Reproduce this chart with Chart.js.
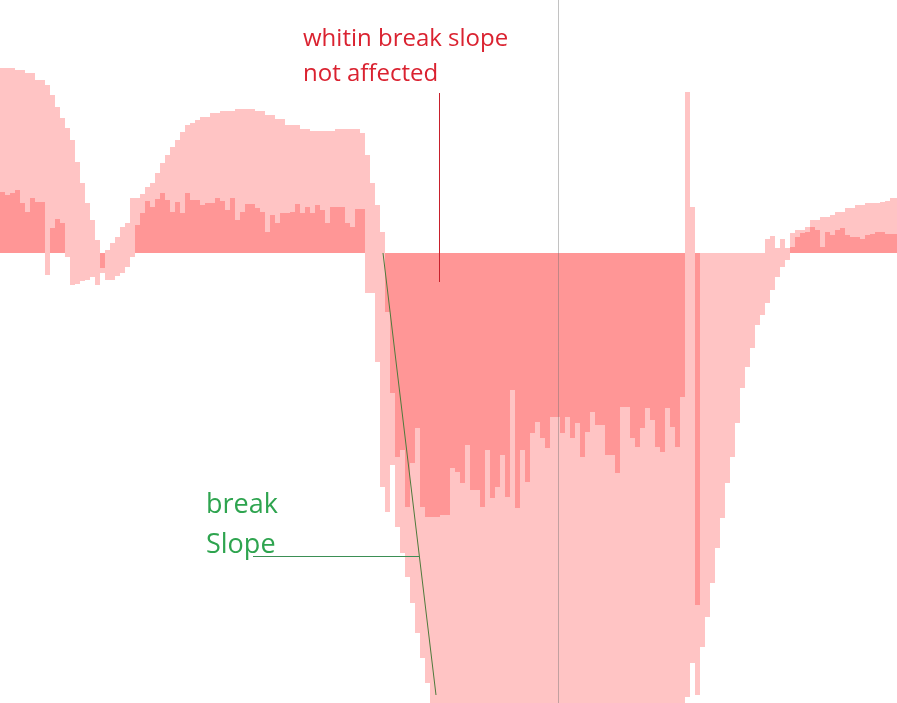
<!DOCTYPE html>
<html>
<head>
<meta charset="utf-8">
<script src="https://cdn.jsdelivr.net/npm/chart.js@4.4.1/dist/chart.umd.min.js"></script>
<style>
html, body { margin: 0; padding: 0; background: #fff; overflow: hidden; }
#wrap { position: relative; width: 900px; height: 703px; }
</style>
</head>
<body>
<div id="wrap"><canvas id="myChart"></canvas></div>
<script>
// smooth series (wide envelope)
const trendValues = [
  18.5, 18.5, 18.5, 18.3, 18.3, 18.0, 18.0, 17.3, 17.3, 16.8,
  15.8, 14.6, 13.5, 12.5, 11.3, 9.1, 7.0, 5.0, 3.3, 1.3,
  -1.5, 0.3, 1.0, 1.6, 2.6, 3.0, 5.5, 5.5, 5.9, 6.6,
  7.0, 8.0, 9.0, 9.8, 10.6, 11.3, 12.1, 12.8, 13.0, 13.3,
  13.6, 13.6, 14.0, 14.0, 14.2, 14.2, 14.2, 14.4, 14.4, 14.4,
  14.4, 14.2, 14.2, 13.8, 13.8, 13.4, 13.4, 12.8, 12.8, 12.8,
  12.4, 12.4, 12.2, 12.2, 12.2, 12.2, 12.2, 12.4, 12.4, 12.4,
  12.4, 12.4, 12.0, 9.8, 7.0, 4.8, 2.1, -25.9, -21.2, -27.4,
  -30.0, -32.4, -35.0, -38.0, -40.5, -43.0, -45.0, -48.0, -50.0, -52.0,
  -54, -55, -56, -57, -58, -58, -59, -59, -60, -60,
  -60, -60, -60, -60, -60, -60, -60, -60, -60, -60,
  -60, -60, -60, -60, -60, -60, -60, -60, -60, -60,
  -60, -60, -60, -59, -59, -58, -57, -56, -55, -54,
  -53, -52, -51, -50, -49, -48, -47, -44.4, -41.0, -44.2,
  -39.4, -36.4, -33.0, -29.5, -26.5, -23.0, -20.4, -17.0, -13.5, -11.4,
  -9.5, -7.2, -6.2, -5.0, -3.7, -2.4, -1.4, -0.7, 2.0, 2.3,
  2.3, 2.6, 3.3, 3.3, 3.6, 3.6, 3.8, 4.1, 4.1, 4.5,
  4.5, 4.8, 4.8, 5.0, 5.0, 5.0, 5.1, 5.2, 5.5, 5.5
];

// jagged series (measured)
const measureValues = [
  6.1, 5.8, 6.0, 6.3, 5.0, 4.1, 5.5, 5.1, 5.1, -2.2,
  2.5, 3.4, 3.0, -0.4, -3.2, -3.1, -2.8, -2.7, -2.4, -3.2,
  -2.0, -2.7, -2.7, -2.3, -2.0, -1.4, -0.4, 2.8, 4.0, 5.2,
  4.6, 5.4, 6.0, 5.3, 4.1, 5.1, 4.0, 6.0, 5.3, 5.3,
  4.8, 5.0, 5.0, 5.5, 5.2, 4.3, 5.5, 3.3, 4.1, 4.9,
  4.9, 4.5, 4.1, 2.1, 3.8, 3.0, 4.0, 4.0, 4.1, 4.9,
  4.0, 4.6, 4.0, 4.8, 4.3, 3.0, 4.6, 4.6, 4.6, 3.0,
  2.6, 4.4, 4.4, -4.0, -4.0, -10.9, -23.4, -5.9, -14.0, -20.4,
  -19.7, -25.4, -21.0, -17.5, -25.4, -26.4, -26.4, -26.4, -26.2, -26.2,
  -21.5, -21.9, -23.0, -19.2, -23.7, -23.7, -25.4, -19.7, -24.5, -23.4,
  -20.2, -24.4, -13.7, -25.5, -19.7, -22.9, -18.0, -16.9, -18.5, -19.5,
  -16.4, -16.4, -18.0, -16.4, -18.5, -17.0, -20.4, -17.9, -15.9, -17.2,
  -17.2, -20.2, -20.2, -22.0, -15.4, -15.4, -18.5, -19.4, -17.5, -15.5,
  -16.7, -19.4, -19.9, -15.5, -17.4, -19.4, -14.4, 16.1, 4.6, -35.2,
  0, 0, 0, 0, 0, 0, 0, 0, 0, 0,
  0, 0, 0, 1.4, 1.7, 0.5, 1.4, 0.5, 0.6, 1.6,
  2.0, 2.1, 2.6, 2.3, 0.6, 2.1, 1.8, 2.3, 2.5, 1.8,
  1.6, 1.6, 1.4, 1.8, 1.9, 2.1, 2.1, 1.9, 1.9, 1.9
];

const categories = trendValues.map((v, i) => String(i + 1));

// axis range
const yMin = -45;
const yMax = 25.3;

// notes (x in category index, y in value units)
const cursorAt = 111.1;
const redNote = ['whitin break slope', 'not affected'];
const greenNote = ['break', 'Slope'];

const notesPlugin = {
    id: 'notes',
    beforeDatasetsDraw(chart) {
        // plain white background
        const ctx = chart.ctx;
        ctx.save();
        ctx.fillStyle = '#fff';
        ctx.fillRect(0, 0, chart.width, chart.height);
        ctx.restore();
    },
    afterDatasetsDraw(chart) {
        const ctx = chart.ctx;
        const xs = chart.scales.x;
        const ys = chart.scales.y;
        const area = chart.chartArea;
        const px = v => xs.getPixelForValue(v);
        const py = v => ys.getPixelForValue(v);

        ctx.save();

        // grey cursor line
        const cx = Math.round(px(cursorAt)) + 0.5;
        ctx.strokeStyle = 'rgba(110,110,110,0.42)';
        ctx.lineWidth = 1;
        ctx.beginPath();
        ctx.moveTo(cx, area.top);
        ctx.lineTo(cx, area.bottom);
        ctx.stroke();

        // red note
        ctx.fillStyle = '#DA2230';
        ctx.font = '24px "Open Sans"';
        ctx.textBaseline = 'alphabetic';
        redNote.forEach((t, k) => ctx.fillText(t, px(60.1), py(20.7) + k * 35));
        const rx = Math.round(px(87.3)) + 0.5;
        ctx.strokeStyle = '#C8202C';
        ctx.beginPath();
        ctx.moveTo(rx, py(16.0));
        ctx.lineTo(rx, py(-2.9));
        ctx.stroke();

        // green note
        ctx.fillStyle = '#2EA44F';
        ctx.font = '27px "Open Sans"';
        greenNote.forEach((t, k) => ctx.fillText(t, px(40.7), py(-26.0) + k * 40));
        const gy = Math.round(py(-30.3)) + 0.5;
        ctx.strokeStyle = '#3B8F55';
        ctx.beginPath();
        ctx.moveTo(px(50.1), gy);
        ctx.lineTo(px(83.3), gy);
        ctx.stroke();

        // slope line
        ctx.strokeStyle = '#4E7A3C';
        ctx.beginPath();
        ctx.moveTo(px(76.1), py(0));
        ctx.lineTo(px(86.7), py(-44.2));
        ctx.stroke();

        ctx.restore();
    }
};

const ctx = document.getElementById('myChart');

new Chart(ctx, {
    type: 'bar',
    data: {
        labels: categories,
        datasets: [{
            label: 'trend',
            data: trendValues,
            backgroundColor: 'rgba(255,0,0,0.23)'
        }, {
            label: 'measure',
            data: measureValues,
            backgroundColor: 'rgba(255,0,0,0.23)'
        }]
    },
    options: {
        responsive: true,
        maintainAspectRatio: false,
        animation: false,
        layout: { padding: 0 },
        datasets: {
            bar: {
                grouped: false,
                barPercentage: 1,
                categoryPercentage: 1,
                borderWidth: 0,
                inflateAmount: 0
            }
        },
        scales: {
            x: { display: false },
            y: { display: false, min: yMin, max: yMax }
        },
        plugins: {
            legend: { display: false },
            tooltip: { enabled: false }
        }
    },
    plugins: [notesPlugin]
});
</script>
</body>
</html>
